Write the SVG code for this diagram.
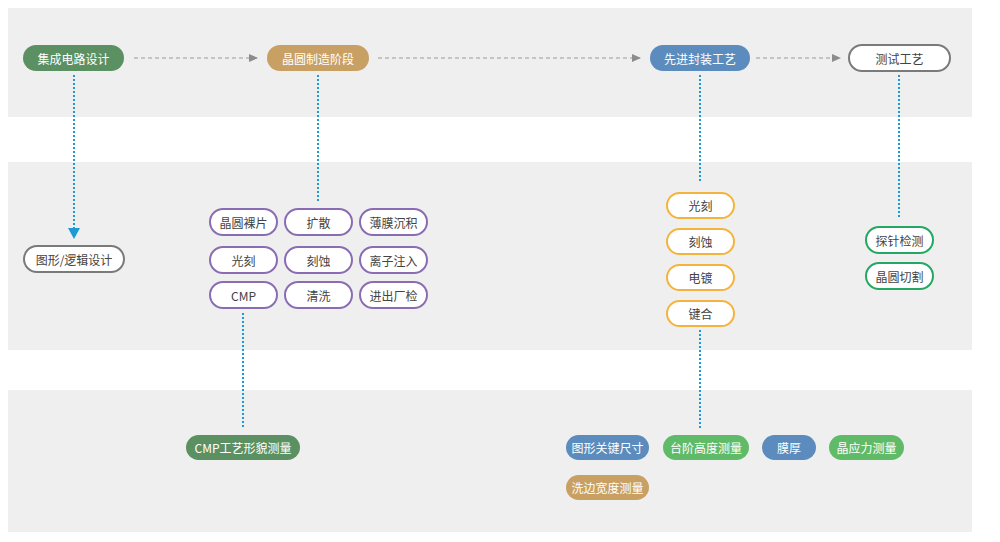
<svg xmlns="http://www.w3.org/2000/svg" width="1000" height="542" viewBox="0 0 1000 542">
<defs>
<marker id="ag" markerWidth="9" markerHeight="8" refX="8" refY="4" orient="auto" markerUnits="userSpaceOnUse"><path d="M0,0 L9,4 L0,8 Z" fill="#8c8c8c"/></marker>
<style>
text{font-family:"Noto Sans CJK SC","Noto Sans",sans-serif;font-size:12px;text-anchor:middle;dominant-baseline:central}
.band{fill:#efefef}
.flow{stroke:#9a9a9a;stroke-width:1.2;stroke-dasharray:4 3;fill:none}
.dot{stroke:#1c9ad6;stroke-width:2;stroke-dasharray:2 2;fill:none}
.wt{fill:#fff}
.dk{fill:#444}
.gray{fill:#fff;stroke:#7a7a7a;stroke-width:2}
.pur{fill:#fff;stroke:#8a6cb3;stroke-width:2}
.org{fill:#fff;stroke:#f3b33d;stroke-width:2}
.grn{fill:#fff;stroke:#22a862;stroke-width:2}
.sg{fill:#5b9063}
.tan{fill:#c9a063}
.blu{fill:#5b8cbd}
.lg{fill:#5fbb67}
</style>
</defs>
<rect class="band" x="8" y="8" width="964" height="109"/>
<rect class="band" x="8" y="162" width="964" height="188"/>
<rect class="band" x="8" y="390" width="964" height="142"/>

<g id="connectors">
<line class="flow" x1="134" y1="58" x2="257" y2="58" marker-end="url(#ag)"/>
<line class="flow" x1="378" y1="58" x2="640" y2="58" marker-end="url(#ag)"/>
<line class="flow" x1="756" y1="58" x2="840" y2="58" marker-end="url(#ag)"/>
<line class="dot" x1="74" y1="75" x2="74" y2="228"/>
<path d="M68,228 L80,228 L74,239 Z" fill="#1c9ad6"/>
<line class="dot" x1="318" y1="75" x2="318" y2="202"/>
<line class="dot" x1="243" y1="313" x2="243" y2="428"/>
<line class="dot" x1="700" y1="75" x2="700" y2="183"/>
<line class="dot" x1="700" y1="330" x2="700" y2="429"/>
<line class="dot" x1="899" y1="75" x2="899" y2="219"/>
</g>

<g id="n-ic"><rect class="sg" x="23" y="45" width="101" height="26" rx="13"/><text class="wt" x="73.5" y="58">集成电路设计</text></g>
<g id="n-wafer"><rect class="tan" x="267" y="45" width="102" height="26" rx="13"/><text class="wt" x="318" y="58">晶圆制造阶段</text></g>
<g id="n-pack"><rect class="blu" x="650" y="45" width="100" height="26" rx="13"/><text class="wt" x="700" y="58">先进封装工艺</text></g>
<g id="n-test"><rect class="gray" x="849" y="45" width="101" height="26" rx="13"/><text class="dk" x="899.5" y="58">测试工艺</text></g>

<g id="n-logic"><rect class="gray" x="24" y="246" width="100" height="26" rx="13"/><text class="dk" x="74" y="259">图形/逻辑设计</text></g>

<g id="n-p1"><rect class="pur" x="210" y="209" width="67" height="26" rx="13"/><text class="dk" x="243.5" y="222">晶圆裸片</text></g>
<g id="n-p2"><rect class="pur" x="285" y="209" width="67" height="26" rx="13"/><text class="dk" x="318.5" y="222">扩散</text></g>
<g id="n-p3"><rect class="pur" x="360" y="209" width="67" height="26" rx="13"/><text class="dk" x="393.5" y="222">薄膜沉积</text></g>
<g id="n-p4"><rect class="pur" x="210" y="247" width="67" height="26" rx="13"/><text class="dk" x="243.5" y="260">光刻</text></g>
<g id="n-p5"><rect class="pur" x="285" y="247" width="67" height="26" rx="13"/><text class="dk" x="318.5" y="260">刻蚀</text></g>
<g id="n-p6"><rect class="pur" x="360" y="247" width="67" height="26" rx="13"/><text class="dk" x="393.5" y="260">离子注入</text></g>
<g id="n-p7"><rect class="pur" x="210" y="282" width="67" height="26" rx="13"/><text class="dk" x="243.5" y="295">CMP</text></g>
<g id="n-p8"><rect class="pur" x="285" y="282" width="67" height="26" rx="13"/><text class="dk" x="318.5" y="295">清洗</text></g>
<g id="n-p9"><rect class="pur" x="360" y="282" width="67" height="26" rx="13"/><text class="dk" x="393.5" y="295">进出厂检</text></g>

<g id="n-o1"><rect class="org" x="667" y="193" width="67" height="25" rx="12.5"/><text class="dk" x="700.5" y="205.5">光刻</text></g>
<g id="n-o2"><rect class="org" x="667" y="229" width="67" height="25" rx="12.5"/><text class="dk" x="700.5" y="241.5">刻蚀</text></g>
<g id="n-o3"><rect class="org" x="667" y="265" width="67" height="25" rx="12.5"/><text class="dk" x="700.5" y="277.5">电镀</text></g>
<g id="n-o4"><rect class="org" x="667" y="301" width="67" height="25" rx="12.5"/><text class="dk" x="700.5" y="313.5">键合</text></g>

<g id="n-g1"><rect class="grn" x="866" y="227" width="67" height="26" rx="13"/><text class="dk" x="899.5" y="240">探针检测</text></g>
<g id="n-g2"><rect class="grn" x="866" y="263" width="67" height="26" rx="13"/><text class="dk" x="899.5" y="276">晶圆切割</text></g>

<g id="n-cmp"><rect class="sg" x="186" y="435" width="114" height="25" rx="12.5"/><text class="wt" x="243" y="447.5">CMP工艺形貌测量</text></g>
<g id="n-b1"><rect class="blu" x="566" y="435" width="83" height="25" rx="12.5"/><text class="wt" x="607.5" y="447.5">图形关键尺寸</text></g>
<g id="n-b2"><rect class="lg" x="663" y="435" width="86" height="25" rx="12.5"/><text class="wt" x="706" y="447.5">台阶高度测量</text></g>
<g id="n-b3"><rect class="blu" x="762" y="435" width="54" height="25" rx="12.5"/><text class="wt" x="789" y="447.5">膜厚</text></g>
<g id="n-b4"><rect class="lg" x="829" y="435" width="75" height="25" rx="12.5"/><text class="wt" x="866.5" y="447.5">晶应力测量</text></g>
<g id="n-b5"><rect class="tan" x="566" y="475" width="83" height="25" rx="12.5"/><text class="wt" x="607.5" y="487.5">洗边宽度测量</text></g>
</svg>
